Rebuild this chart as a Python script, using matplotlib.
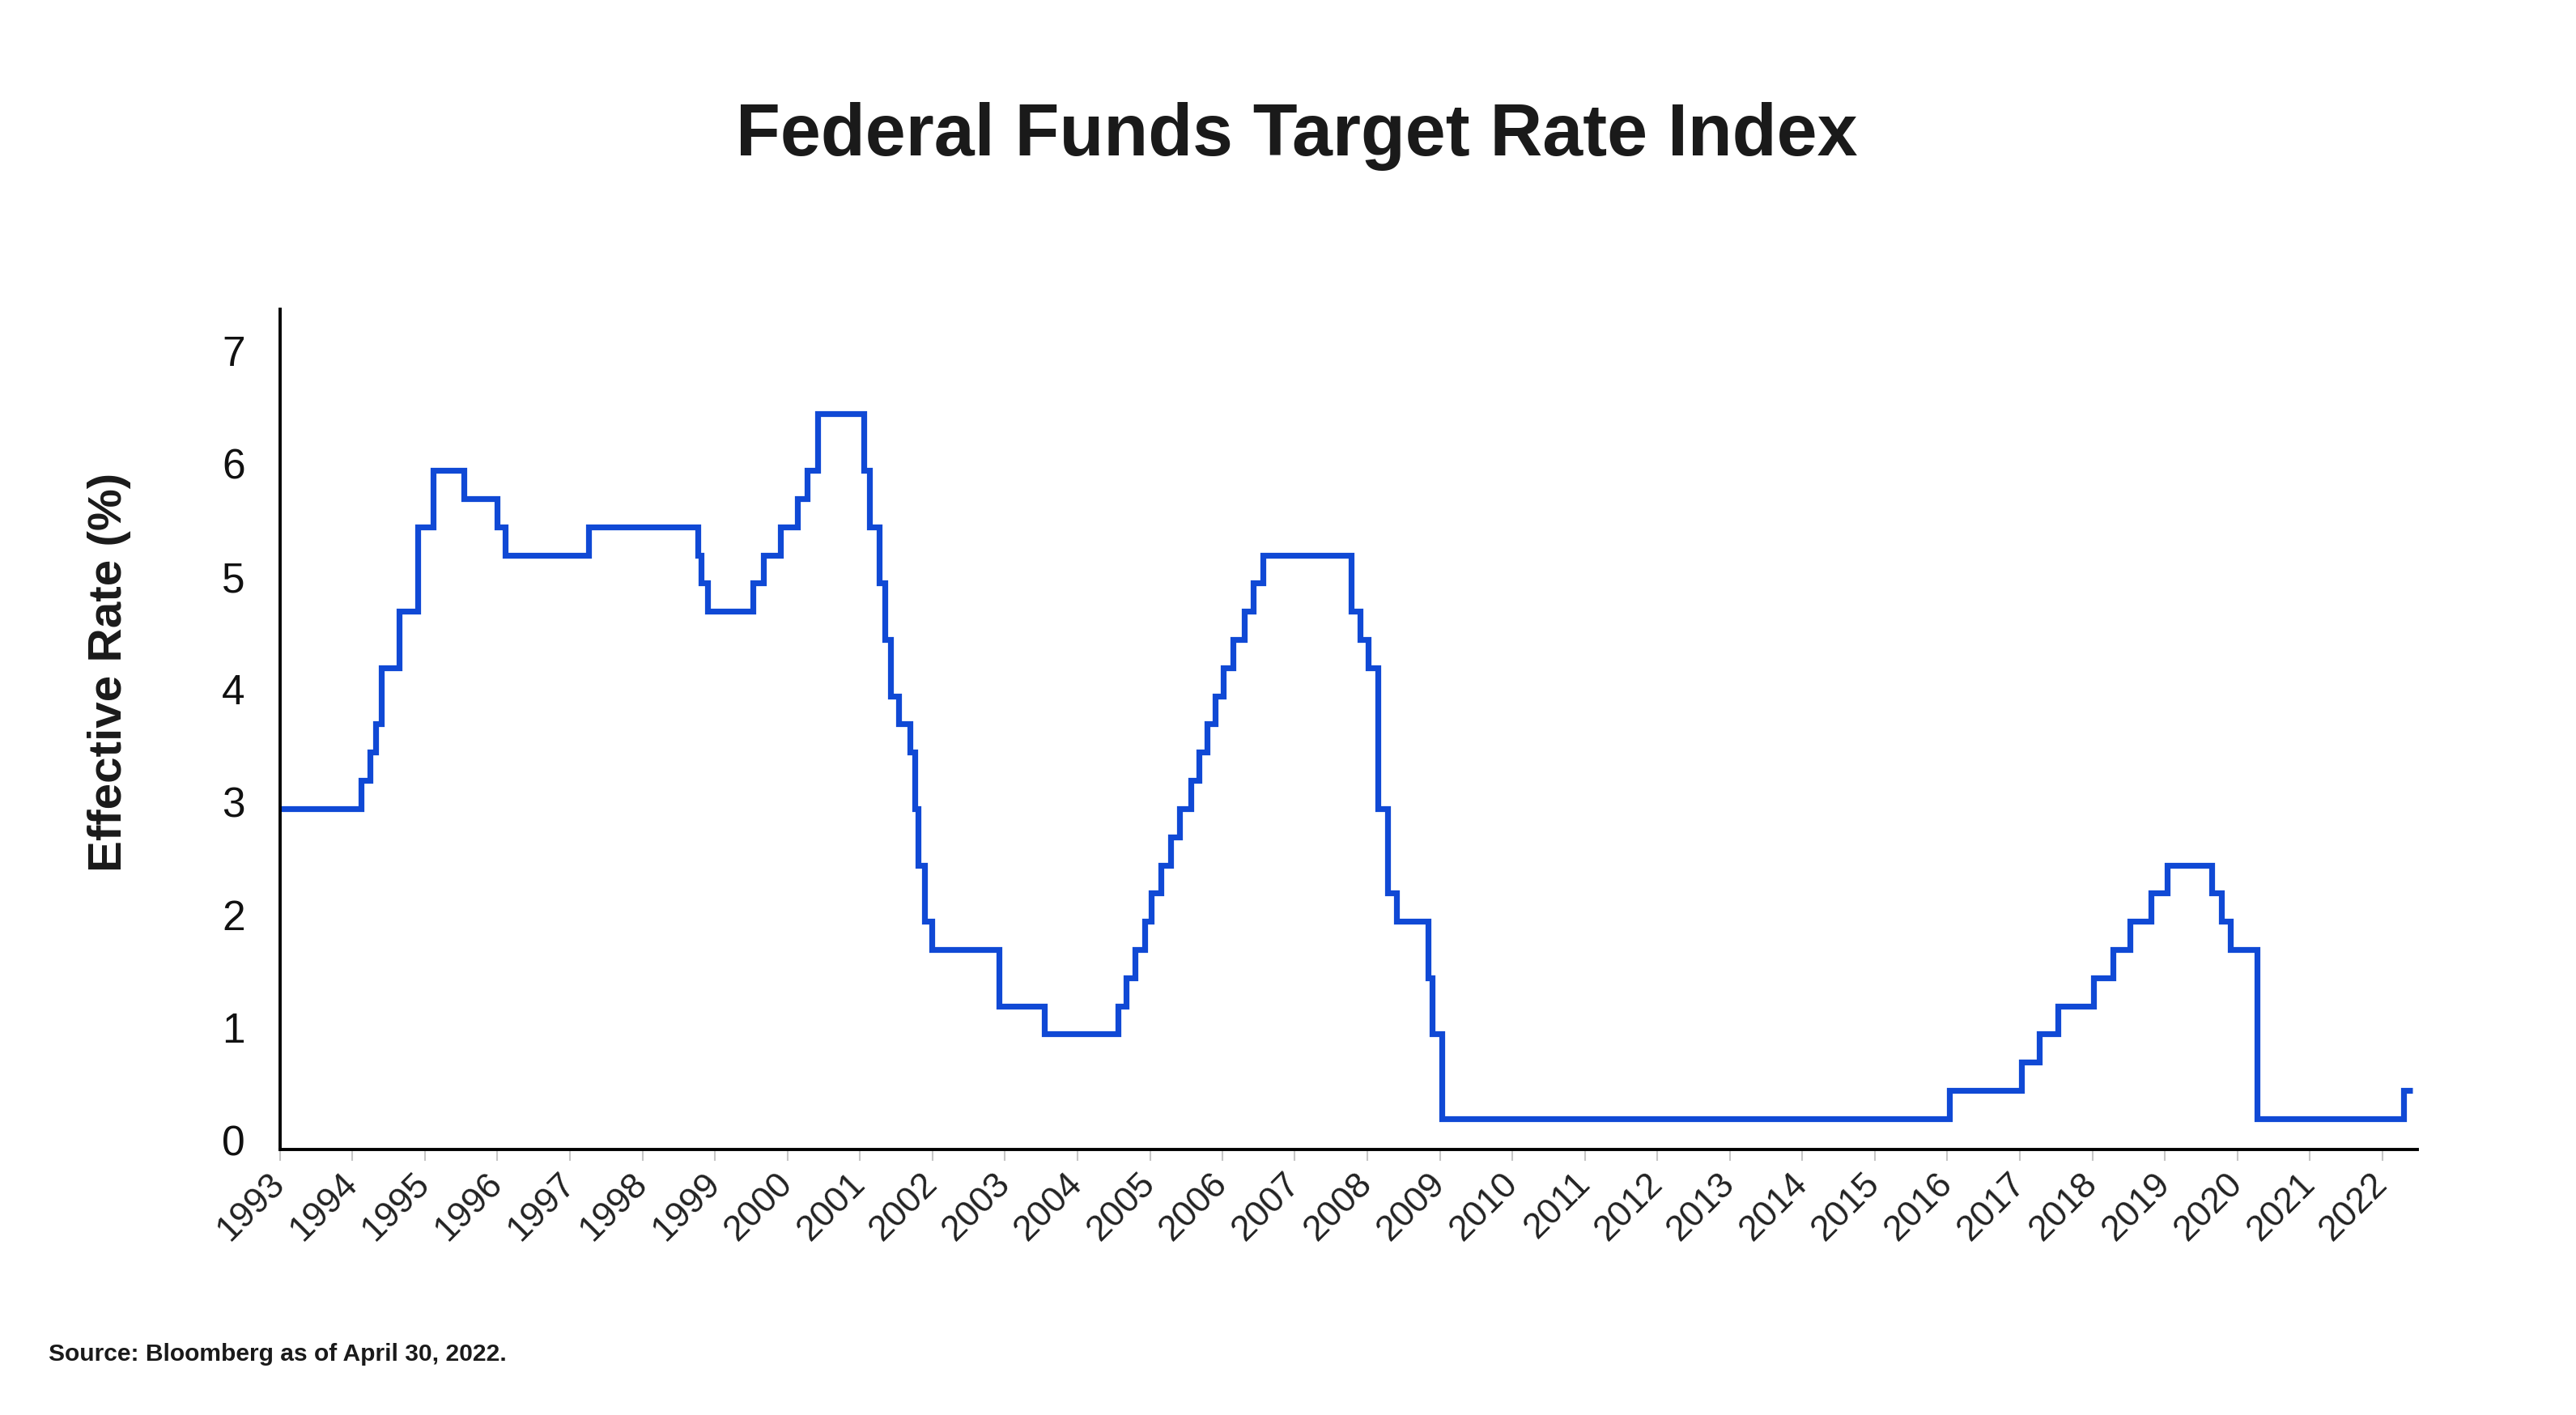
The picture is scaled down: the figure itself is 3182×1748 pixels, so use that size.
import matplotlib
matplotlib.use("Agg")
import matplotlib.pyplot as plt
import matplotlib.dates as mdates
import matplotlib.transforms as mtransforms
import pandas as pd

# rate level and the date each step shows up on the chart
change_dates = [
    "1993-01-01", "1994-02-14", "1994-04-01", "1994-04-28", "1994-05-27", "1994-08-26",
    "1994-11-25", "1995-02-11", "1995-07-16", "1995-12-29", "1996-02-10", "1997-04-04",
    "1998-10-09", "1998-10-25", "1998-11-27", "1999-07-10", "1999-09-03", "1999-11-26",
    "2000-02-20", "2000-04-08", "2000-06-03", "2001-01-21", "2001-02-18", "2001-04-07",
    "2001-05-06", "2001-06-02", "2001-07-15", "2001-09-08", "2001-10-05", "2001-10-20",
    "2001-11-24", "2001-12-29", "2002-12-01", "2003-07-20", "2004-07-25", "2004-09-04",
    "2004-10-16", "2004-12-05", "2005-01-08", "2005-02-27", "2005-04-16", "2005-05-28",
    "2005-07-25", "2005-09-03", "2005-10-15", "2005-11-26", "2006-01-07", "2006-02-25",
    "2006-04-22", "2006-06-04", "2006-07-24", "2007-10-13", "2007-11-25", "2008-01-05",
    "2008-02-24", "2008-04-12", "2008-05-25", "2008-11-02", "2008-11-23", "2009-01-10",
    "2016-01-12", "2017-01-10", "2017-04-10", "2017-07-10", "2018-01-08", "2018-04-16",
    "2018-07-09", "2018-10-22", "2019-01-14", "2019-08-26", "2019-10-14", "2019-11-25",
    "2020-04-10", "2022-04-16", "2022-06-01",
]
rates = [
    3.00, 3.25, 3.50, 3.75, 4.25, 4.75,
    5.50, 6.00, 5.75, 5.50, 5.25, 5.50,
    5.25, 5.00, 4.75, 5.00, 5.25, 5.50,
    5.75, 6.00, 6.50, 6.00, 5.50, 5.00,
    4.50, 4.00, 3.75, 3.50, 3.00, 2.50,
    2.00, 1.75, 1.25, 1.00, 1.25, 1.50,
    1.75, 2.00, 2.25, 2.50, 2.75, 3.00,
    3.25, 3.50, 3.75, 4.00, 4.25, 4.50,
    4.75, 5.00, 5.25, 4.75, 4.50, 4.25,
    3.00, 2.25, 2.00, 1.50, 1.00, 0.25,
    0.50, 0.75, 1.00, 1.25, 1.50, 1.75,
    2.00, 2.25, 2.50, 2.25, 2.00, 1.75,
    0.25, 0.50, 0.50,
]
y_ticks = [0, 1, 2, 3, 4, 5, 6, 7]

dates = pd.to_datetime(change_dates)

plt.rcParams['font.family'] = ['Liberation Sans', 'DejaVu Sans']

fig = plt.figure(figsize=(15.91, 8.74), dpi=200)
ax = fig.add_axes([0.1087, 0.1879, 0.8297, 0.5936])

ax.plot(dates, rates, drawstyle='steps-post', color='#1049D5', linewidth=2.6,
        solid_joinstyle='miter', solid_capstyle='butt')

ax.set_xlim(pd.Timestamp("1993-01-01"), pd.Timestamp("2022-06-26"))
ax.set_ylim(-0.02, 7.43)
ax.set_yticks(y_ticks)

ax.xaxis.set_major_locator(mdates.YearLocator())
ax.xaxis.set_major_formatter(mdates.DateFormatter('%Y'))

for s in ['top', 'right']:
    ax.spines[s].set_visible(False)
for s in ['left', 'bottom']:
    ax.spines[s].set_linewidth(1.4)
    ax.spines[s].set_color('black')

ax.tick_params(axis='y', length=0, pad=15.5, labelsize=18.5, labelcolor='#111111')
ax.tick_params(axis='x', length=5, width=0.75, color='#c6c6c6', pad=8,
               labelsize=16, labelcolor='#222222')
up = mtransforms.ScaledTranslation(0, 3 / 72, fig.dpi_scale_trans)
for lbl in ax.get_yticklabels():
    lbl.set_transform(lbl.get_transform() + up)
for lbl in ax.get_xticklabels():
    lbl.set_rotation(45)
    lbl.set_ha('right')
    lbl.set_va('center')
    lbl.set_rotation_mode('anchor')

fig.text(0.0424, 0.525, 'Effective Rate (%)', rotation=90, ha='center', va='center',
         fontsize=21, fontweight='bold', color='#1a1a1a')

fig.text(0.5035, 0.8903, 'Federal Funds Target Rate Index', ha='center', va='baseline',
         fontsize=32.3, fontweight='bold', color='#1a1a1a')
fig.text(0.019, 0.043, 'Source: Bloomberg as of April 30, 2022.', ha='left', va='center',
         fontsize=10.8, fontweight='bold', color='#1a1a1a')

fig.savefig('out.png', dpi=200)
